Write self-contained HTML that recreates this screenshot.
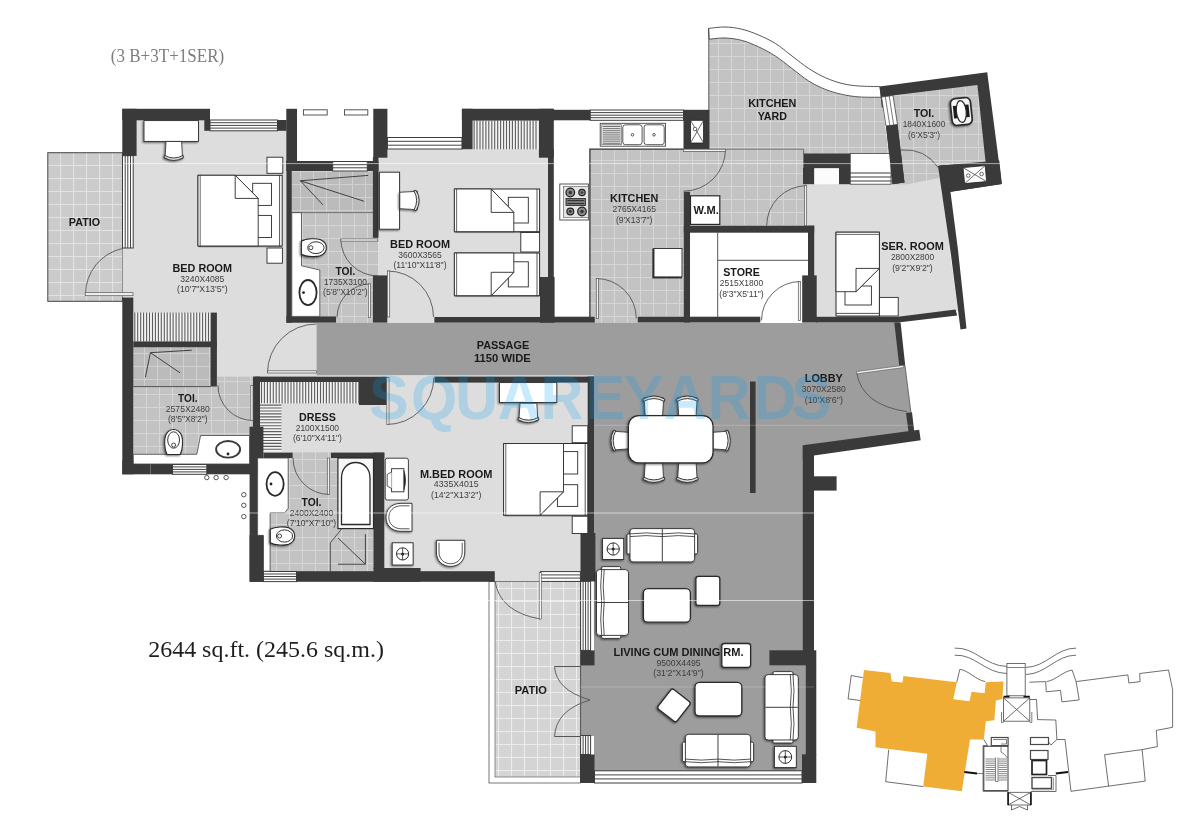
<!DOCTYPE html>
<html lang="en"><head><meta charset="utf-8"><title>Floor plan 3B+3T+1SER - 2644 sq.ft.</title>
<style>
html,body{margin:0;padding:0;background:#fff;}
body{width:1200px;height:837px;overflow:hidden;}
svg{display:block;}
</style></head><body>
<svg width="1200" height="837" viewBox="0 0 1200 837">
<defs>
<pattern id="tile" width="13" height="13" patternUnits="userSpaceOnUse" x="3" y="4">
<rect width="13" height="13" fill="#c3c3c3"/><path d="M0 0.5H13M0.5 0V13" stroke="#d6d6d6" stroke-width="1" fill="none"/>
</pattern>
<pattern id="tiled" width="13" height="13" patternUnits="userSpaceOnUse" x="1" y="2">
<rect width="13" height="13" fill="#bbbbbb"/><path d="M0 0.5H13M0.5 0V13" stroke="#d0d0d0" stroke-width="1" fill="none"/>
</pattern>
<pattern id="ptile" width="13" height="13" patternUnits="userSpaceOnUse" x="8" y="9">
<rect width="13" height="13" fill="#cbcbcb"/><path d="M0 0.5H13M0.5 0V13" stroke="#e2e2e2" stroke-width="1.2" fill="none"/>
</pattern>
<pattern id="ptile2" width="13" height="13" patternUnits="userSpaceOnUse" x="4" y="3">
<rect width="13" height="13" fill="#d4d4d4"/><path d="M0 0.5H13M0.5 0V13" stroke="#ececec" stroke-width="1.2" fill="none"/>
</pattern>
<filter id="sh" x="-20%" y="-20%" width="150%" height="150%">
<feGaussianBlur in="SourceAlpha" stdDeviation="1.1"/><feOffset dx="-1.1" dy="1.3" result="o"/>
<feComponentTransfer><feFuncA type="linear" slope="0.55"/></feComponentTransfer>
<feMerge><feMergeNode/><feMergeNode in="SourceGraphic"/></feMerge>
</filter>
</defs>
<rect width="1200" height="837" fill="#ffffff"/>

<g id="floors">
<rect x="47.8" y="152.7" width="74.7" height="148.6" fill="url(#ptile)" stroke="#444" stroke-width="1"/>
<rect x="133" y="120" width="153.5" height="193" fill="#dddddd"/>
<rect x="216" y="313" width="100.5" height="63.8" fill="#dddddd"/>
<rect x="122.5" y="247.5" width="11.5" height="50.1" fill="#dddddd"/>
<rect x="133" y="347" width="78" height="40" fill="url(#tiled)"/>
<rect x="133" y="386.6" width="121" height="77.4" fill="url(#tile)"/>
<rect x="216.9" y="376.5" width="37.1" height="11.5" fill="url(#tile)"/>
<rect x="291.8" y="171" width="81.2" height="41.6" fill="url(#tiled)"/>
<rect x="291.8" y="212.6" width="86.7" height="104.4" fill="url(#tile)"/>
<rect x="335.8" y="316" width="37.4" height="7" fill="url(#tile)"/>
<rect x="378.5" y="149" width="170" height="168.5" fill="#dddddd"/>
<rect x="387" y="317" width="48" height="6" fill="#dddddd"/>
<rect x="553.8" y="120" width="130.2" height="197" fill="#ffffff"/>
<rect x="589.9" y="149.2" width="94.6" height="167.8" fill="url(#tile)"/>
<rect x="684" y="149.2" width="123" height="76.8" fill="url(#tile)"/>
<rect x="594.5" y="316" width="43.5" height="7" fill="url(#tile)"/>
<path d="M589.9 317V149.2H683.5" fill="none" stroke="#333" stroke-width="1.3" />
<path d="M709.2 39.2C711.8 39 719.6 37.8 725 38C730.4 38.2 736.2 38.9 741.8 40.4C747.4 41.9 752.9 44.2 758.5 46.8C764.1 49.4 769.7 52.4 775.3 56C780.9 59.6 786.4 64.3 792 68.5C797.6 72.7 803.1 77.5 808.7 81C814.3 84.5 819.8 87.2 825.4 89.4C831 91.6 836.5 93.2 842.1 94.4C847.7 95.7 852.4 96.4 858.9 96.9C865.4 97.4 877.6 97.2 881.4 97.3L893 184L803.4 184L803.4 149.2L708.8 149.2Z" fill="url(#tile)" stroke="none" stroke-width="1" />
<path d="M708.4 28.4C711.2 28.2 719.4 26.9 725 27C730.6 27.1 736.2 27.9 741.8 29.2C747.4 30.5 752.9 32.6 758.5 35C764.1 37.4 769.7 39.9 775.3 43.4C780.9 46.9 786.4 51.8 792 56C797.6 60.2 803.1 64.9 808.7 68.5C814.3 72.1 819.8 75.2 825.4 77.7C831 80.2 836.5 82.1 842.1 83.5C847.7 84.9 852.6 85.5 858.9 86C865.2 86.5 876.3 86.5 879.8 86.6L881.4 97.3C877.6 97.2 865.4 97.4 858.9 96.9C852.4 96.4 847.7 95.7 842.1 94.4C836.5 93.2 831 91.6 825.4 89.4C819.8 87.2 814.3 84.5 808.7 81C803.1 77.5 797.6 72.7 792 68.5C786.4 64.3 780.9 59.6 775.3 56C769.7 52.4 764.1 49.4 758.5 46.8C752.9 44.2 747.4 41.9 741.8 40.4C736.2 38.9 730.4 38.2 725 38C719.6 37.8 711.8 39 709.2 39.2Z" fill="#ffffff" stroke="#444" stroke-width="0.9" />
<line x1="708.8" y1="28.4" x2="708.8" y2="149.2" stroke="#444" stroke-width="0.9" />
<path d="M709 149.2H803.6V154" fill="none" stroke="#555" stroke-width="0.8" />
<polygon points="807,184.2 905,183.6 942,176.5 951,260 958,311 898,318 814,318 814,230 807,226" fill="#dddddd"/>
<polygon points="890,94.5 978.5,84.5 986.5,163 940,167 942,177.5 906,184.5 893,184.5" fill="url(#tile)"/>
<rect x="690" y="232" width="118.5" height="85" fill="#ffffff"/>
<rect x="760" y="316" width="43" height="7" fill="#ffffff"/>
<polygon points="316.5,323 897,323 905,365.5 911,413 912,431.5 808,446 808,771 594,771 594,375.5 316.5,375.5" fill="#9d9d9d"/>
<rect x="260" y="381" width="127" height="72" fill="#dddddd"/>
<rect x="384" y="381" width="204" height="191" fill="#dddddd"/>
<rect x="386.8" y="375.5" width="47.7" height="7.5" fill="#dddddd"/>
<rect x="494.8" y="570" width="46.2" height="11.6" fill="#dddddd"/>
<rect x="580.4" y="665" width="14.6" height="71" fill="#9d9d9d"/>
<rect x="257.6" y="458" width="116.4" height="114" fill="url(#tile)"/>
<rect x="292.5" y="452.4" width="38.7" height="6.1" fill="url(#tile)"/>
<rect x="489" y="581.4" width="91.5" height="201.6" fill="#ffffff" stroke="#555" stroke-width="0.8"/>
<rect x="495" y="581.4" width="85.5" height="195.6" fill="url(#ptile2)" stroke="#666" stroke-width="0.7"/>
</g>
<g id="windows">
<rect x="210" y="120" width="67.5" height="10.8" fill="#ffffff" stroke="#3c3c3c" stroke-width="1"/>
<line x1="210" y1="122.7" x2="277.5" y2="122.7" stroke="#444" stroke-width="1" />
<line x1="210" y1="125.4" x2="277.5" y2="125.4" stroke="#444" stroke-width="1" />
<line x1="210" y1="128.1" x2="277.5" y2="128.1" stroke="#444" stroke-width="1" />
<rect x="122.5" y="155.7" width="10.7" height="92.3" fill="#ffffff" stroke="#3c3c3c" stroke-width="1"/>
<line x1="125.2" y1="155.7" x2="125.2" y2="248" stroke="#444" stroke-width="1" />
<line x1="127.8" y1="155.7" x2="127.8" y2="248" stroke="#444" stroke-width="1" />
<line x1="130.5" y1="155.7" x2="130.5" y2="248" stroke="#444" stroke-width="1" />
<rect x="332.7" y="161.5" width="34.6" height="9.5" fill="#ffffff" stroke="#3c3c3c" stroke-width="1"/>
<line x1="332.7" y1="164.7" x2="367.3" y2="164.7" stroke="#444" stroke-width="1" />
<line x1="332.7" y1="167.8" x2="367.3" y2="167.8" stroke="#444" stroke-width="1" />
<rect x="387.4" y="137.5" width="74.6" height="11.5" fill="#ffffff" stroke="#3c3c3c" stroke-width="1"/>
<line x1="387.4" y1="141.3" x2="462" y2="141.3" stroke="#444" stroke-width="1" />
<line x1="387.4" y1="145.2" x2="462" y2="145.2" stroke="#444" stroke-width="1" />
<rect x="590.2" y="110" width="93.3" height="10.3" fill="#ffffff" stroke="#3c3c3c" stroke-width="1"/>
<line x1="590.2" y1="112.6" x2="683.5" y2="112.6" stroke="#444" stroke-width="1" />
<line x1="590.2" y1="115.2" x2="683.5" y2="115.2" stroke="#444" stroke-width="1" />
<line x1="590.2" y1="117.7" x2="683.5" y2="117.7" stroke="#444" stroke-width="1" />
<rect x="172.5" y="464.5" width="34.3" height="9.8" fill="#ffffff" stroke="#3c3c3c" stroke-width="1"/>
<line x1="172.5" y1="466.9" x2="206.8" y2="466.9" stroke="#444" stroke-width="1" />
<line x1="172.5" y1="469.4" x2="206.8" y2="469.4" stroke="#444" stroke-width="1" />
<line x1="172.5" y1="471.9" x2="206.8" y2="471.9" stroke="#444" stroke-width="1" />
<rect x="263.4" y="571.5" width="33.1" height="10.1" fill="#ffffff" stroke="#3c3c3c" stroke-width="1"/>
<line x1="263.4" y1="574" x2="296.5" y2="574" stroke="#444" stroke-width="1" />
<line x1="263.4" y1="576.5" x2="296.5" y2="576.5" stroke="#444" stroke-width="1" />
<line x1="263.4" y1="579.1" x2="296.5" y2="579.1" stroke="#444" stroke-width="1" />
<rect x="580.6" y="581.4" width="10" height="69" fill="#ffffff" stroke="#3c3c3c" stroke-width="1"/>
<line x1="583.1" y1="581.4" x2="583.1" y2="650.4" stroke="#444" stroke-width="1" />
<line x1="585.6" y1="581.4" x2="585.6" y2="650.4" stroke="#444" stroke-width="1" />
<line x1="588.1" y1="581.4" x2="588.1" y2="650.4" stroke="#444" stroke-width="1" />
<rect x="580.6" y="735.5" width="10" height="19" fill="#ffffff" stroke="#3c3c3c" stroke-width="1"/>
<line x1="583.1" y1="735.5" x2="583.1" y2="754.5" stroke="#444" stroke-width="1" />
<line x1="585.6" y1="735.5" x2="585.6" y2="754.5" stroke="#444" stroke-width="1" />
<line x1="588.1" y1="735.5" x2="588.1" y2="754.5" stroke="#444" stroke-width="1" />
<rect x="594.5" y="770.8" width="207.5" height="12.2" fill="#ffffff" stroke="#3c3c3c" stroke-width="1"/>
<line x1="594.5" y1="774.9" x2="802" y2="774.9" stroke="#444" stroke-width="1" />
<line x1="594.5" y1="778.9" x2="802" y2="778.9" stroke="#444" stroke-width="1" />
<rect x="540.5" y="571.6" width="39.9" height="9.8" fill="#ffffff" stroke="#3c3c3c" stroke-width="1"/>
<line x1="540.5" y1="574.9" x2="580.4" y2="574.9" stroke="#444" stroke-width="1" />
<line x1="540.5" y1="578.1" x2="580.4" y2="578.1" stroke="#444" stroke-width="1" />
<rect x="303.4" y="109.8" width="23.8" height="5.2" fill="#fff" stroke="#444" stroke-width="0.9"/>
<rect x="344.5" y="109.8" width="23.3" height="5.2" fill="#fff" stroke="#444" stroke-width="0.9"/>
<rect x="133.3" y="312.6" width="77.3" height="29" fill="#f4f4f4"/>
<path d="M134.8 312.6V341.6M137.7 312.6V341.6M140.7 312.6V341.6M143.6 312.6V341.6M146.6 312.6V341.6M149.5 312.6V341.6M152.5 312.6V341.6M155.4 312.6V341.6M158.4 312.6V341.6M161.3 312.6V341.6M164.3 312.6V341.6M167.2 312.6V341.6M170.2 312.6V341.6M173.1 312.6V341.6M176.1 312.6V341.6M179 312.6V341.6M182 312.6V341.6M184.9 312.6V341.6M187.9 312.6V341.6M190.8 312.6V341.6M193.8 312.6V341.6M196.7 312.6V341.6M199.7 312.6V341.6M202.6 312.6V341.6M205.6 312.6V341.6M208.5 312.6V341.6" fill="none" stroke="#5c5c5c" stroke-width="1.1" />
<rect x="472.6" y="120.6" width="66.3" height="28.6" fill="#f4f4f4"/>
<path d="M474.1 120.6V149.2M477 120.6V149.2M480 120.6V149.2M482.9 120.6V149.2M485.9 120.6V149.2M488.8 120.6V149.2M491.8 120.6V149.2M494.7 120.6V149.2M497.7 120.6V149.2M500.6 120.6V149.2M503.6 120.6V149.2M506.5 120.6V149.2M509.5 120.6V149.2M512.4 120.6V149.2M515.4 120.6V149.2M518.3 120.6V149.2M521.3 120.6V149.2M524.2 120.6V149.2M527.2 120.6V149.2M530.1 120.6V149.2M533.1 120.6V149.2M536 120.6V149.2" fill="none" stroke="#5c5c5c" stroke-width="1.1" />
<rect x="260" y="382" width="99" height="21.6" fill="#f4f4f4"/>
<path d="M261.5 382V403.6M264.4 382V403.6M267.4 382V403.6M270.3 382V403.6M273.3 382V403.6M276.2 382V403.6M279.2 382V403.6M282.1 382V403.6M285.1 382V403.6M288 382V403.6M291 382V403.6M293.9 382V403.6M296.9 382V403.6M299.8 382V403.6M302.8 382V403.6M305.7 382V403.6M308.7 382V403.6M311.6 382V403.6M314.6 382V403.6M317.5 382V403.6M320.5 382V403.6M323.4 382V403.6M326.4 382V403.6M329.3 382V403.6M332.3 382V403.6M335.2 382V403.6M338.2 382V403.6M341.1 382V403.6M344.1 382V403.6M347 382V403.6M350 382V403.6M352.9 382V403.6M355.9 382V403.6M358.8 382V403.6" fill="none" stroke="#5c5c5c" stroke-width="1.1" />
<rect x="260" y="403.6" width="21.5" height="47.9" fill="#f4f4f4"/>
<path d="M260 405.1H281.5M260 408H281.5M260 411H281.5M260 413.9H281.5M260 416.9H281.5M260 419.8H281.5M260 422.8H281.5M260 425.7H281.5M260 428.7H281.5M260 431.6H281.5M260 434.6H281.5M260 437.5H281.5M260 440.5H281.5M260 443.4H281.5M260 446.4H281.5M260 449.3H281.5" fill="none" stroke="#5c5c5c" stroke-width="1.1" />
</g>
<g id="walls" fill="#3a3a3a">
<rect x="122.3" y="108.8" width="87.7" height="11.5" fill="#3a3a3a"/>
<rect x="204.3" y="120" width="5.7" height="10.8" fill="#3a3a3a"/>
<rect x="122.3" y="108.8" width="14.3" height="47.1" fill="#3a3a3a"/>
<rect x="277.5" y="120" width="9" height="10.8" fill="#3a3a3a"/>
<rect x="286.3" y="108.8" width="10.7" height="56.2" fill="#3a3a3a"/>
<rect x="286.4" y="161" width="5.4" height="161.7" fill="#3a3a3a"/>
<rect x="286.3" y="161" width="46.4" height="10" fill="#3a3a3a"/>
<rect x="367.3" y="161" width="11.2" height="10" fill="#3a3a3a"/>
<rect x="373.3" y="108.8" width="14.1" height="48.9" fill="#3a3a3a"/>
<rect x="372.9" y="157" width="5.6" height="80.8" fill="#3a3a3a"/>
<rect x="372.9" y="275.4" width="14.4" height="47.3" fill="#3a3a3a"/>
<rect x="286.4" y="316.4" width="49.6" height="6.3" fill="#3a3a3a"/>
<rect x="122.3" y="297.5" width="11" height="176.8" fill="#3a3a3a"/>
<rect x="133.3" y="341.4" width="83.6" height="5.8" fill="#3a3a3a"/>
<rect x="210.6" y="312.6" width="6.3" height="74" fill="#3a3a3a"/>
<rect x="122.3" y="460.5" width="28.1" height="13.8" fill="#3a3a3a"/>
<rect x="150.4" y="464" width="22.1" height="10.3" fill="#3a3a3a"/>
<rect x="206.8" y="464" width="43.2" height="10.3" fill="#3a3a3a"/>
<rect x="249.5" y="426.7" width="13.9" height="47.6" fill="#3a3a3a"/>
<rect x="249.6" y="474" width="8" height="62" fill="#3a3a3a"/>
<rect x="249.6" y="535.4" width="13.8" height="46.4" fill="#3a3a3a"/>
<rect x="253" y="376.6" width="7" height="51.4" fill="#3a3a3a"/>
<rect x="254.6" y="376.6" width="104.4" height="5.4" fill="#3a3a3a"/>
<rect x="359" y="376.6" width="27.8" height="28.4" fill="#3a3a3a"/>
<rect x="434.5" y="376.5" width="159.5" height="6.1" fill="#3a3a3a"/>
<rect x="587.7" y="376.5" width="6.3" height="157.5" fill="#3a3a3a"/>
<rect x="580.5" y="533" width="14.9" height="48.4" fill="#3a3a3a"/>
<rect x="296.5" y="571.2" width="198.3" height="10.6" fill="#3a3a3a"/>
<rect x="373.5" y="568" width="47.1" height="13.8" fill="#3a3a3a"/>
<rect x="373.5" y="452.6" width="10.8" height="116.4" fill="#3a3a3a"/>
<rect x="331" y="452.6" width="53.3" height="5.4" fill="#3a3a3a"/>
<rect x="263.4" y="452.6" width="29.3" height="5.4" fill="#3a3a3a"/>
<rect x="461.9" y="108.8" width="91.9" height="11.8" fill="#3a3a3a"/>
<rect x="461.9" y="108.8" width="10.7" height="40.4" fill="#3a3a3a"/>
<rect x="538.9" y="108.8" width="14.9" height="48.9" fill="#3a3a3a"/>
<rect x="548" y="149" width="5.8" height="129" fill="#3a3a3a"/>
<rect x="540" y="277" width="14.6" height="45.7" fill="#3a3a3a"/>
<rect x="434.4" y="317" width="106.6" height="5.7" fill="#3a3a3a"/>
<rect x="553" y="109.8" width="37.2" height="10.5" fill="#3a3a3a"/>
<rect x="683.5" y="109.8" width="25.8" height="39.4" fill="#3a3a3a"/>
<rect x="540" y="316.7" width="54.8" height="6" fill="#3a3a3a"/>
<rect x="637.8" y="316.7" width="122.5" height="5.9" fill="#3a3a3a"/>
<rect x="683.8" y="191.8" width="6.2" height="130.7" fill="#3a3a3a"/>
<rect x="683.8" y="225.7" width="130.4" height="7" fill="#3a3a3a"/>
<rect x="808" y="225.7" width="6.2" height="50.3" fill="#3a3a3a"/>
<rect x="802.2" y="275.4" width="14.5" height="47.2" fill="#3a3a3a"/>
<rect x="816" y="316.8" width="82.5" height="5.8" fill="#3a3a3a"/>
<rect x="803.4" y="153.5" width="46.9" height="14.8" fill="#3a3a3a"/>
<rect x="803" y="168" width="11.3" height="16.2" fill="#3a3a3a"/>
<rect x="839" y="168" width="11.3" height="16.2" fill="#3a3a3a"/>
<rect x="802.8" y="446" width="11.2" height="205" fill="#3a3a3a"/>
<rect x="814" y="476.3" width="22.6" height="14.3" fill="#3a3a3a"/>
<rect x="769.4" y="650.3" width="46.9" height="15" fill="#3a3a3a"/>
<rect x="805.8" y="665" width="10.5" height="90" fill="#3a3a3a"/>
<rect x="802" y="754.3" width="14.3" height="28.7" fill="#3a3a3a"/>
<rect x="580.4" y="650.4" width="14.1" height="15" fill="#3a3a3a"/>
<rect x="580" y="754.5" width="14.5" height="28.5" fill="#3a3a3a"/>
<rect x="750" y="381.5" width="5.6" height="111.5" fill="#3a3a3a"/>
<polygon points="898,316.8 955.5,309.6 957.2,315.4 898,322.6" fill="#3a3a3a"/>
<polygon points="938,166 947,165 958,250 966.5,328.5 960.5,329.5 951,255" fill="#3a3a3a"/>
<polygon points="879.7,86.6 987.2,72.2 1001.8,184 942.6,193 938.9,165.7 985.6,162.2 977.4,85.1 892.5,95.6 894,106 881.8,107.5" fill="#3a3a3a"/>
<polygon points="938.9,165.7 999.3,160.5 1001.8,184 942.6,193" fill="#3a3a3a"/>
<polygon points="886,126 897.5,124.5 904.5,182.5 892.5,184.2" fill="#3a3a3a"/>
<polygon points="894.3,322.6 900.6,322.6 905.2,365.5 899.3,366.3" fill="#3a3a3a"/>
<polygon points="906,413 912,412.2 914.2,431 908.6,432" fill="#3a3a3a"/>
<polygon points="802.8,445.2 919.2,429.8 920.7,440.3 814,455.6 814,460 802.8,460" fill="#3a3a3a"/>
</g>
<rect x="690.5" y="120.3" width="13.1" height="22.7" fill="#ffffff" stroke="#222" stroke-width="0.8"/>
<path d="M690.5 120.3L703.6 143M703.6 120.3L690.5 143" fill="none" stroke="#444" stroke-width="0.8" />
<circle cx="695" cy="129" r="1.8" fill="#fff" stroke="#444" stroke-width="0.8"/>
<polygon points="963,167.6 985.2,165.6 986.6,181.6 964.6,183.6" fill="#ffffff" stroke="#222" stroke-width="0.8"/>
<path d="M963 167.6L986.6 181.6M985.2 165.6L964.6 183.6" fill="none" stroke="#444" stroke-width="0.8" />
<circle cx="968.3" cy="175.6" r="1.8" fill="#fff" stroke="#444" stroke-width="0.8"/><circle cx="981.6" cy="174" r="1.8" fill="#fff" stroke="#444" stroke-width="0.8"/>
<polygon points="881.5,97 893,95.5 897.5,124.5 886,126" fill="#ffffff" stroke="#444" stroke-width="0.8"/>
<path d="M885.3 96.5L889.8 125.5M889.2 96L893.7 125" fill="none" stroke="#555" stroke-width="0.8" />
<rect x="850.3" y="153.5" width="40.7" height="30.7" fill="#ffffff" stroke="#444" stroke-width="0.8"/>
<path d="M850.3 173H890.5M850.3 177H891M850.3 181H891.5" fill="none" stroke="#3a3a3a" stroke-width="1" />
<rect x="814.3" y="168.3" width="24.7" height="15.9" fill="#fbfbfb"/>
<polygon points="884,126 893,184.2 850,184.2 850,153.5 887,153.5" fill="none"/>
<polygon points="886,126 897.5,124.5 904.5,182.5 892.5,184.2" fill="#3a3a3a"/>
<g id="doors">
<path d="M122.8 248.4A47 47 0 0 0 85.5 294.4" fill="none" stroke="#555" stroke-width="0.9" />
<rect x="85.2" y="292.7" width="47.8" height="3" fill="#f2f2f2" stroke="#555" stroke-width="0.7"/>
<path d="M316.5 324A49 49 0 0 0 267.5 373" fill="none" stroke="#555" stroke-width="0.9" />
<rect x="267.5" y="370.8" width="49" height="2.2" fill="#f2f2f2" stroke="#555" stroke-width="0.7"/>
<path d="M253 420.5A35 35 0 0 1 218 385.5" fill="none" stroke="#555" stroke-width="0.9" />
<rect x="250.8" y="385.5" width="2.2" height="35" fill="#f2f2f2" stroke="#555" stroke-width="0.7"/>
<path d="M377.8 275.9A37 37 0 0 1 340.8 238.9" fill="none" stroke="#555" stroke-width="0.9" />
<rect x="340.8" y="238.9" width="37" height="2.2" fill="#f2f2f2" stroke="#555" stroke-width="0.7"/>
<path d="M370.5 283.9A33.5 33.5 0 0 0 337 317.4" fill="none" stroke="#555" stroke-width="0.9" />
<rect x="368.3" y="283.9" width="2.2" height="33.5" fill="#f2f2f2" stroke="#555" stroke-width="0.7"/>
<path d="M387.5 271A46 46 0 0 1 433.5 317" fill="none" stroke="#555" stroke-width="0.9" />
<rect x="387.5" y="271" width="2.2" height="46" fill="#f2f2f2" stroke="#555" stroke-width="0.7"/>
<path d="M386.8 424.5A47 47 0 0 0 433.8 377.5" fill="none" stroke="#555" stroke-width="0.9" />
<rect x="386.8" y="377.5" width="2.2" height="47" fill="#f2f2f2" stroke="#555" stroke-width="0.7"/>
<path d="M329.5 494.5A36.5 36.5 0 0 1 293 458" fill="none" stroke="#555" stroke-width="0.9" />
<rect x="327.3" y="458" width="2.2" height="36.5" fill="#f2f2f2" stroke="#555" stroke-width="0.7"/>
<path d="M596.3 278.5A40 40 0 0 1 636.3 318.5" fill="none" stroke="#555" stroke-width="0.9" />
<rect x="596.3" y="278.5" width="2.2" height="40" fill="#f2f2f2" stroke="#555" stroke-width="0.7"/>
<path d="M683.5 191.2A42 42 0 0 0 725.5 149.2" fill="none" stroke="#555" stroke-width="0.9" />
<rect x="683.5" y="149.2" width="42" height="2.2" fill="#f2f2f2" stroke="#555" stroke-width="0.7"/>
<path d="M806.7 185.7A40 40 0 0 0 766.7 225.7" fill="none" stroke="#555" stroke-width="0.9" />
<rect x="804.5" y="185.7" width="2.2" height="40" fill="#f2f2f2" stroke="#555" stroke-width="0.7"/>
<path d="M800.5 320.5L800.5 281.5A39 39 0 0 0 761.5 320.5Z" fill="#fff" stroke="none" stroke-width="1" />
<path d="M800.5 281.5A39 39 0 0 0 761.5 320.5" fill="none" stroke="#555" stroke-width="0.9" />
<rect x="798.3" y="281.5" width="2.2" height="39" fill="#f2f2f2" stroke="#555" stroke-width="0.7"/>
<path d="M901 150Q925 148 938.5 168" fill="none" stroke="#555" stroke-width="0.9" />
<path d="M856.7 372.7Q862 405 906.9 411.6" fill="none" stroke="#555" stroke-width="0.9" />
<polygon points="856.5,371.6 903.5,365.3 903.8,367.5 856.8,373.8" fill="#f2f2f2" stroke="#555" stroke-width="0.6"/>
<line x1="905" y1="365.7" x2="911" y2="412.9" stroke="#555" stroke-width="0.8" />
<path d="M495 581.4Q500 612 540.3 619" fill="none" stroke="#555" stroke-width="0.9" />
<rect x="539.2" y="572.6" width="2.2" height="46.4" fill="#f2f2f2" stroke="#555" stroke-width="0.6"/>
<path d="M554.5 666.5Q556 690 590 700Q556 710 554.5 736.5" fill="none" stroke="#555" stroke-width="0.9" />
<path d="M554.5 666.5H581M554.5 736.5H581" fill="none" stroke="#555" stroke-width="1.2" />
<line x1="580.6" y1="665.4" x2="580.6" y2="736" stroke="#555" stroke-width="0.9" />
</g>
<g id="fixtures">
<polygon points="200.6,435.5 249.5,435.5 249.5,464 133.3,464 133.3,454.3 196.8,454.3" fill="#fff" stroke="#444" stroke-width="0.8"/>
<ellipse cx="228.1" cy="449.3" rx="12" ry="8.3" fill="#fff" stroke="#3a3a3a" stroke-width="1.9"/><circle cx="228" cy="454" r="1.4" fill="#222"/>
<g filter="url(#sh)"><g transform="translate(173.6,442) rotate(-90)">
<path d="M-12.5 -6.5C-7.5 -9.4 2.5 -9.4 6.2 -8.1C10.5 -6.3 12.5 -3.2 12.5 0C12.5 3.2 10.5 6.3 6.2 8.1C2.5 9.4 -7.5 9.4 -12.5 6.5Z" fill="#fff" stroke="#2a2a2a" stroke-width="1.1" />
<ellipse cx="2" cy="0" rx="8.2" ry="5.9" fill="#fff" stroke="#333" stroke-width="1"/>
<circle cx="-3" cy="0" r="2" fill="#fff" stroke="#333" stroke-width="0.9"/>
</g></g>
<path d="M150.4 352.7L191.8 350.2M150.4 352.7L180 372.8M150.4 352.7L145.4 377.3" fill="none" stroke="#333" stroke-width="0.9" />
<line x1="133.3" y1="386.6" x2="211" y2="386.6" stroke="#444" stroke-width="0.9" />
<polygon points="291.8,212.6 301.5,212.6 301.5,265.8 319.8,270 319.8,316.4 291.8,316.4" fill="#fff" stroke="#444" stroke-width="0.8"/>
<line x1="291.8" y1="212.6" x2="373" y2="212.6" stroke="#555" stroke-width="0.8" />
<ellipse cx="308" cy="292.6" rx="8.6" ry="12.6" fill="#fff" stroke="#2a2a2a" stroke-width="1.8"/><circle cx="303.5" cy="292.6" r="1.4" fill="#222"/>
<g filter="url(#sh)"><g transform="translate(313.9,247.7) rotate(0)">
<path d="M-12.5 -6.5C-7.5 -9.4 2.5 -9.4 6.2 -8.1C10.5 -6.3 12.5 -3.2 12.5 0C12.5 3.2 10.5 6.3 6.2 8.1C2.5 9.4 -7.5 9.4 -12.5 6.5Z" fill="#fff" stroke="#2a2a2a" stroke-width="1.1" />
<ellipse cx="2" cy="0" rx="8.2" ry="5.9" fill="#fff" stroke="#333" stroke-width="1"/>
<circle cx="-3" cy="0" r="2" fill="#fff" stroke="#333" stroke-width="0.9"/>
</g></g>
<path d="M300.4 180.8L368.2 175.4M300.4 180.8L363.9 201.2M300.4 180.8L323 204.9" fill="none" stroke="#333" stroke-width="0.9" />
<polygon points="257.6,458 288.2,458 288.2,508.3 284.7,512.8 270.1,512.8 270.1,571.2 263.4,571.2 263.4,535.4 257.6,535.4" fill="#fff" stroke="#444" stroke-width="0.8"/>
<rect x="249.6" y="535.4" width="13.8" height="46.4" fill="#3a3a3a"/>
<ellipse cx="275.1" cy="484" rx="8.6" ry="11.8" fill="#fff" stroke="#2a2a2a" stroke-width="1.8"/><circle cx="271" cy="484" r="1.4" fill="#222"/>
<g filter="url(#sh)"><g transform="translate(282.5,536) rotate(0)">
<path d="M-12.2 -6.7C-7.3 -9.6 2.5 -9.6 6.1 -8.3C10.3 -6.5 12.2 -3.3 12.2 0C12.2 3.3 10.3 6.5 6.1 8.3C2.5 9.6 -7.3 9.6 -12.2 6.7Z" fill="#fff" stroke="#2a2a2a" stroke-width="1.1" />
<ellipse cx="2" cy="0" rx="8.1" ry="6.1" fill="#fff" stroke="#333" stroke-width="1"/>
<circle cx="-2.9" cy="0" r="2" fill="#fff" stroke="#333" stroke-width="0.9"/>
</g></g>
<rect x="337.9" y="458" width="35.6" height="70.6" fill="#f6f6f6" stroke="#2a2a2a" stroke-width="1.2"/>
<path d="M341.5 524.5V478C341.5 468 348 462.5 355.7 462.5C363.5 462.5 370 468 370 478V524.5Z" fill="#fff" stroke="#2a2a2a" stroke-width="1.3" />
<path d="M330.3 571.2V542.9L341.6 529" fill="none" stroke="#444" stroke-width="0.9" />
<path d="M337.9 537.9L365.4 564.2M365.4 534.1V564.2M337.9 564.2H365.4" fill="none" stroke="#333" stroke-width="0.9" />
<circle cx="206.8" cy="477.6" r="2.2" fill="#fff" stroke="#444" stroke-width="0.9"/>
<circle cx="216.1" cy="477.6" r="2.2" fill="#fff" stroke="#444" stroke-width="0.9"/>
<circle cx="226.1" cy="477.6" r="2.2" fill="#fff" stroke="#444" stroke-width="0.9"/>
<circle cx="243.8" cy="494.7" r="2.2" fill="#fff" stroke="#444" stroke-width="0.9"/>
<circle cx="243.8" cy="505.3" r="2.2" fill="#fff" stroke="#444" stroke-width="0.9"/>
<circle cx="243.8" cy="516.6" r="2.2" fill="#fff" stroke="#444" stroke-width="0.9"/>
<g filter="url(#sh)"><g transform="rotate(-6 961.3 111.5)"><rect x="951.2" y="98" width="20.2" height="27" rx="5" fill="#f4f4f4" stroke="#2a2a2a" stroke-width="1.7"/><rect x="953.4" y="105.2" width="4" height="12.6" fill="#1c1c1c"/><rect x="965.2" y="105.2" width="4" height="12.6" fill="#1c1c1c"/><ellipse cx="961.3" cy="111.5" rx="4.9" ry="11" fill="#fff" stroke="#2a2a2a" stroke-width="1.2"/></g></g>
<rect x="600.2" y="123.3" width="65.2" height="22.9" fill="#fff" stroke="#444" stroke-width="0.9"/>
<rect x="601.8" y="124.8" width="19.7" height="19.9" fill="#e8e8e8" stroke="#555" stroke-width="0.6"/>
<path d="M603 126.5H620.5M603 128.6H620.5M603 130.7H620.5M603 132.8H620.5M603 134.9H620.5M603 137H620.5M603 139.1H620.5M603 141.2H620.5M603 143.3H620.5" fill="none" stroke="#555" stroke-width="0.8" />
<rect x="622.8" y="124.8" width="19.3" height="19.9" rx="2.5" ry="2.5" fill="#fff" stroke="#444" stroke-width="0.9" />
<rect x="644.1" y="124.8" width="20.1" height="19.9" rx="2.5" ry="2.5" fill="#fff" stroke="#444" stroke-width="0.9" />
<circle cx="632.5" cy="134.8" r="1.3" fill="#fff" stroke="#333" stroke-width="0.8"/><circle cx="654" cy="134.8" r="1.3" fill="#fff" stroke="#333" stroke-width="0.8"/>
<rect x="559.8" y="184" width="28.6" height="36" fill="#fff" stroke="#444" stroke-width="0.9"/>
<rect x="563.5" y="186.5" width="24.9" height="31" fill="#e4e4e4" stroke="#555" stroke-width="0.6"/>
<circle cx="570.3" cy="192.5" r="4.3" fill="#8a8a8a" stroke="#222" stroke-width="1.2"/><circle cx="570.3" cy="192.5" r="1.7" fill="#333"/>
<circle cx="582" cy="192.5" r="3.2" fill="#8a8a8a" stroke="#222" stroke-width="1.2"/><circle cx="582" cy="192.5" r="1.3" fill="#333"/>
<circle cx="570.3" cy="211.5" r="3.4" fill="#8a8a8a" stroke="#222" stroke-width="1.2"/><circle cx="570.3" cy="211.5" r="1.4" fill="#333"/>
<circle cx="582" cy="211.5" r="4.3" fill="#8a8a8a" stroke="#222" stroke-width="1.2"/><circle cx="582" cy="211.5" r="1.7" fill="#333"/>
<rect x="566" y="198.5" width="19.5" height="7" fill="#777" stroke="#222" stroke-width="0.8"/>
<path d="M567.5 200.5H584M567.5 203.5H584" fill="none" stroke="#222" stroke-width="0.8" />
<rect x="690.5" y="195.8" width="29.3" height="28.6" fill="#fff" stroke="#2a2a2a" stroke-width="1.2"/>
<rect x="652.3" y="248.5" width="29.7" height="30" fill="#333"/>
<rect x="654" y="248.5" width="28" height="28.4" fill="#fff" stroke="#2a2a2a" stroke-width="0.9"/>
<path d="M717.7 232.7V317M717.7 260.3H808" fill="none" stroke="#444" stroke-width="0.9" />
</g>
<g id="furniture">
<g filter="url(#sh)">
<rect x="144" y="120.6" width="54.5" height="20.8" fill="#fff" stroke="#2a2a2a" stroke-width="0.9"/>
</g>
<g filter="url(#sh)"><g transform="translate(173.8,151.5) rotate(180)">
<path d="M-8.8 -7.2L8.8 -7.2L7.8 10L-7.8 10Z" fill="#fff" stroke="#2a2a2a" stroke-width="0.8" />
<path d="M-9.8 -6Q0 -12 9.8 -6L9.3 -3.8Q0 -9.2 -9.3 -3.8Z" fill="#dcdcdc" stroke="#2a2a2a" stroke-width="0.9" />
</g></g>
<rect x="267" y="157.2" width="15.8" height="16.1" fill="#fff" stroke="#2a2a2a" stroke-width="0.9"/>
<rect x="267" y="248" width="15.4" height="15.2" fill="#fff" stroke="#2a2a2a" stroke-width="0.9"/>
<g>
<rect x="199" y="176.7" width="82.7" height="70.7" fill="#555" opacity="0.5"/>
<rect x="198" y="175.3" width="84.2" height="70.7" fill="#fff" stroke="#2a2a2a" stroke-width="1"/>
<line x1="279.6" y1="175.3" x2="279.6" y2="246" stroke="#2a2a2a" stroke-width="0.8" />
<rect x="252.7" y="183.3" width="18.8" height="22.1" fill="#fff" stroke="#2a2a2a" stroke-width="0.9"/>
<rect x="252.7" y="215.4" width="18.8" height="22.1" fill="#fff" stroke="#2a2a2a" stroke-width="0.9"/>
<polygon points="198,175.3 235.2,175.3 258.2,198.4 258.2,246 198,246" fill="#fff" stroke="#2a2a2a" stroke-width="0.9"/>
<line x1="200.2" y1="175.3" x2="200.2" y2="246" stroke="#2a2a2a" stroke-width="0.7" />
<polygon points="235.2,175.3 235.2,198.4 258.2,198.4" fill="#fff" stroke="#2a2a2a" stroke-width="0.9"/>
</g>
<g filter="url(#sh)">
<rect x="379.4" y="172.2" width="20.2" height="57" fill="#fff" stroke="#2a2a2a" stroke-width="0.9"/>
</g>
<g filter="url(#sh)"><g transform="translate(410,200.5) rotate(90)">
<path d="M-9.2 -7.4L9.2 -7.4L8.2 10.2L-8.2 10.2Z" fill="#fff" stroke="#2a2a2a" stroke-width="0.8" />
<path d="M-10.2 -6.1Q0 -12.3 10.2 -6.1L9.7 -3.9Q0 -9.4 -9.7 -3.9Z" fill="#dcdcdc" stroke="#2a2a2a" stroke-width="0.9" />
</g></g>
<g>
<rect x="455.4" y="190.4" width="83.7" height="42.7" fill="#555" opacity="0.5"/>
<rect x="454.4" y="189" width="85.2" height="42.7" fill="#fff" stroke="#2a2a2a" stroke-width="1"/>
<line x1="537" y1="189" x2="537" y2="231.7" stroke="#2a2a2a" stroke-width="0.8" />
<rect x="508.3" y="197.3" width="20" height="25.7" fill="#fff" stroke="#2a2a2a" stroke-width="0.9"/>
<polygon points="454.4,189 491.2,189 513.8,212.4 513.8,231.7 454.4,231.7" fill="#fff" stroke="#2a2a2a" stroke-width="0.9"/>
<line x1="456.6" y1="189" x2="456.6" y2="231.7" stroke="#2a2a2a" stroke-width="0.7" />
<polygon points="491.2,189 491.2,212.4 513.8,212.4" fill="#fff" stroke="#2a2a2a" stroke-width="0.9"/>
</g>
<rect x="520.8" y="232.5" width="18.8" height="19.5" fill="#fff" stroke="#2a2a2a" stroke-width="0.9"/>
<g>
<rect x="455.4" y="254.4" width="83.7" height="42.7" fill="#555" opacity="0.5"/>
<rect x="454.4" y="253" width="85.2" height="42.7" fill="#fff" stroke="#2a2a2a" stroke-width="1"/>
<line x1="537" y1="253" x2="537" y2="295.7" stroke="#2a2a2a" stroke-width="0.8" />
<rect x="508.3" y="261.8" width="20" height="25.1" fill="#fff" stroke="#2a2a2a" stroke-width="0.9"/>
<polygon points="454.4,253 513.8,253 513.8,272.3 491.2,295.7 454.4,295.7" fill="#fff" stroke="#2a2a2a" stroke-width="0.9"/>
<line x1="456.6" y1="253" x2="456.6" y2="295.7" stroke="#2a2a2a" stroke-width="0.7" />
<polygon points="491.2,295.7 491.2,272.3 513.8,272.3" fill="#fff" stroke="#2a2a2a" stroke-width="0.9"/>
</g>
<g>
<rect x="837" y="233.6" width="41.9" height="83.8" fill="#555" opacity="0.5"/>
<rect x="836" y="232.2" width="43.4" height="83.8" fill="#fff" stroke="#2a2a2a" stroke-width="1"/>
<line x1="836" y1="313.4" x2="879.4" y2="313.4" stroke="#2a2a2a" stroke-width="0.8" />
<rect x="845" y="286" width="26.4" height="19" fill="#fff" stroke="#2a2a2a" stroke-width="0.9"/>
<polygon points="836,232.2 879.4,232.2 879.4,268.4 856,291.7 836,291.7" fill="#fff" stroke="#2a2a2a" stroke-width="0.9"/>
<line x1="836" y1="234.4" x2="879.4" y2="234.4" stroke="#2a2a2a" stroke-width="0.7" />
<polygon points="856,268.4 879.4,268.4 856,291.7" fill="#fff" stroke="#2a2a2a" stroke-width="0.9"/>
</g>
<rect x="879.4" y="297.4" width="18.8" height="18.6" fill="#fff" stroke="#2a2a2a" stroke-width="0.9"/>
<g filter="url(#sh)">
<rect x="499.5" y="382.6" width="57.3" height="19.9" fill="#fff" stroke="#2a2a2a" stroke-width="0.9"/>
</g>
<g filter="url(#sh)"><g transform="translate(528.4,413.5) rotate(180)">
<path d="M-9.5 -7.4L9.5 -7.4L8.4 10.2L-8.4 10.2Z" fill="#fff" stroke="#2a2a2a" stroke-width="0.8" />
<path d="M-10.5 -6.1Q0 -12.3 10.5 -6.1L10 -3.9Q0 -9.4 -10 -3.9Z" fill="#dcdcdc" stroke="#2a2a2a" stroke-width="0.9" />
</g></g>
<rect x="572.2" y="425.8" width="15.6" height="16.9" fill="#fff" stroke="#2a2a2a" stroke-width="0.9"/>
<rect x="572.2" y="516.2" width="15.6" height="17.3" fill="#fff" stroke="#2a2a2a" stroke-width="0.9"/>
<g>
<rect x="504.6" y="444.9" width="82.7" height="71.7" fill="#555" opacity="0.5"/>
<rect x="503.6" y="443.5" width="84.2" height="71.7" fill="#fff" stroke="#2a2a2a" stroke-width="1"/>
<line x1="585.2" y1="443.5" x2="585.2" y2="515.2" stroke="#2a2a2a" stroke-width="0.8" />
<rect x="563.5" y="451.6" width="14.2" height="22.4" fill="#fff" stroke="#2a2a2a" stroke-width="0.9"/>
<rect x="557.4" y="484.7" width="20.3" height="21.7" fill="#fff" stroke="#2a2a2a" stroke-width="0.9"/>
<polygon points="503.6,443.5 563.5,443.5 563.5,491.8 540.1,515.2 503.6,515.2" fill="#fff" stroke="#2a2a2a" stroke-width="0.9"/>
<line x1="505.8" y1="443.5" x2="505.8" y2="515.2" stroke="#2a2a2a" stroke-width="0.7" />
<polygon points="540.1,515.2 540.1,491.8 563.5,491.8" fill="#fff" stroke="#2a2a2a" stroke-width="0.9"/>
</g>
<rect x="385.2" y="458.2" width="23.2" height="41.8" rx="2" ry="2" fill="#fff" stroke="#2a2a2a" stroke-width="0.9" />
<rect x="391.6" y="468.7" width="12.3" height="23.1" fill="#fff" stroke="#2a2a2a" stroke-width="0.9"/>
<path d="M391.6 472L387.2 474.5V486L391.6 488.5" fill="#fff" stroke="#2a2a2a" stroke-width="0.8" />
<path d="M403.9 470.5Q407 480 403.9 490" fill="#222" stroke="#222" stroke-width="0.8" />
<g filter="url(#sh)">
<path d="M412 503.3H401C391 503.3 386 510 386 517.3C386 524.6 391 531.3 401 531.3H412Z" fill="#fff" stroke="#2a2a2a" stroke-width="0.9" />
<path d="M409.5 505.8H401.5C393 505.8 388.8 511.5 388.8 517.3C388.8 523 393 528.8 401.5 528.8H409.5" fill="none" stroke="#2a2a2a" stroke-width="0.8" />
</g>
<g filter="url(#sh)">
<path d="M436.4 540.3V552C436.4 561.5 443 566.4 450.6 566.4C458.2 566.4 464.8 561.5 464.8 552V540.3Z" fill="#fff" stroke="#2a2a2a" stroke-width="0.9" />
<path d="M439 542.8V552C439 559.5 444.5 563.7 450.6 563.7C456.7 563.7 462.2 559.5 462.2 552V542.8" fill="none" stroke="#2a2a2a" stroke-width="0.8" />
</g>
<g filter="url(#sh)">
<rect x="392.2" y="542.8" width="20.9" height="22.2" fill="#fff" stroke="#2a2a2a" stroke-width="0.9"/>
<circle cx="402.6" cy="553.9" r="6.1" fill="none" stroke="#2a2a2a" stroke-width="1"/>
<path d="M396.6 553.9H408.7M402.6 547.8V560" fill="none" stroke="#2a2a2a" stroke-width="0.8" />
<circle cx="402.6" cy="553.9" r="1.5" fill="#2a2a2a"/>
</g>
<g filter="url(#sh)"><g transform="translate(653.9,405.3) rotate(0)">
<path d="M-9.8 -7.4L9.8 -7.4L8.7 10.3L-8.7 10.3Z" fill="#fff" stroke="#2a2a2a" stroke-width="0.8" />
<path d="M-10.9 -6.2Q0 -12.4 10.9 -6.2L10.4 -3.9Q0 -9.5 -10.4 -3.9Z" fill="#dcdcdc" stroke="#2a2a2a" stroke-width="0.9" />
</g></g>
<g filter="url(#sh)"><g transform="translate(653.9,473.2) rotate(180)">
<path d="M-9.8 -7.4L9.8 -7.4L8.7 10.3L-8.7 10.3Z" fill="#fff" stroke="#2a2a2a" stroke-width="0.8" />
<path d="M-10.9 -6.2Q0 -12.4 10.9 -6.2L10.4 -3.9Q0 -9.5 -10.4 -3.9Z" fill="#dcdcdc" stroke="#2a2a2a" stroke-width="0.9" />
</g></g>
<g filter="url(#sh)"><g transform="translate(687.4,405.3) rotate(0)">
<path d="M-9.8 -7.4L9.8 -7.4L8.7 10.3L-8.7 10.3Z" fill="#fff" stroke="#2a2a2a" stroke-width="0.8" />
<path d="M-10.9 -6.2Q0 -12.4 10.9 -6.2L10.4 -3.9Q0 -9.5 -10.4 -3.9Z" fill="#dcdcdc" stroke="#2a2a2a" stroke-width="0.9" />
</g></g>
<g filter="url(#sh)"><g transform="translate(687.4,473.2) rotate(180)">
<path d="M-9.8 -7.4L9.8 -7.4L8.7 10.3L-8.7 10.3Z" fill="#fff" stroke="#2a2a2a" stroke-width="0.8" />
<path d="M-10.9 -6.2Q0 -12.4 10.9 -6.2L10.4 -3.9Q0 -9.5 -10.4 -3.9Z" fill="#dcdcdc" stroke="#2a2a2a" stroke-width="0.9" />
</g></g>
<g filter="url(#sh)"><g transform="translate(619.2,440.6) rotate(270)">
<path d="M-9.4 -6.6L9.4 -6.6L8.3 9.2L-8.3 9.2Z" fill="#fff" stroke="#2a2a2a" stroke-width="0.8" />
<path d="M-10.4 -5.5Q0 -11 10.4 -5.5L9.9 -3.5Q0 -8.5 -9.9 -3.5Z" fill="#dcdcdc" stroke="#2a2a2a" stroke-width="0.9" />
</g></g>
<g filter="url(#sh)"><g transform="translate(722.1,440.6) rotate(90)">
<path d="M-9.4 -6.6L9.4 -6.6L8.3 9.2L-8.3 9.2Z" fill="#fff" stroke="#2a2a2a" stroke-width="0.8" />
<path d="M-10.4 -5.5Q0 -11 10.4 -5.5L9.9 -3.5Q0 -8.5 -9.9 -3.5Z" fill="#dcdcdc" stroke="#2a2a2a" stroke-width="0.9" />
</g></g>
<g filter="url(#sh)">
<rect x="628.4" y="415.6" width="84.6" height="47.3" rx="10.5" ry="10.5" fill="#fff" stroke="#2a2a2a" stroke-width="1.2" />
</g>
<g filter="url(#sh)">
<rect x="602.6" y="538.4" width="21.1" height="21.1" fill="#fff" stroke="#2a2a2a" stroke-width="0.9"/>
<circle cx="613.2" cy="549" r="6.1" fill="none" stroke="#2a2a2a" stroke-width="1"/>
<path d="M607 549H619.3M613.2 542.8V555.1" fill="none" stroke="#2a2a2a" stroke-width="0.8" />
<circle cx="613.2" cy="549" r="1.5" fill="#2a2a2a"/>
</g>
<g filter="url(#sh)"><g transform="translate(627,528.6)">
<rect x="0" y="5.3" width="4.5" height="20" rx="1.5" ry="1.5" fill="#fff" stroke="#2a2a2a" stroke-width="0.9" />
<rect x="66.1" y="5.3" width="4.5" height="20" rx="1.5" ry="1.5" fill="#fff" stroke="#2a2a2a" stroke-width="0.9" />
<rect x="3" y="0" width="64.6" height="33.3" rx="3.2" ry="3.2" fill="#fff" stroke="#2a2a2a" stroke-width="0.9" />
<path d="M3 5.3Q19.2 3.3 35.3 5.3Q51.5 3.3 67.6 5.3" fill="none" stroke="#2a2a2a" stroke-width="0.8" />
<path d="M3 8Q19.2 6 35.3 8Q51.5 6 67.6 8" fill="none" stroke="#2a2a2a" stroke-width="0.8" />
<line x1="35.3" y1="0.5" x2="35.3" y2="32.8" stroke="#2a2a2a" stroke-width="0.9" />
</g></g>
<g filter="url(#sh)"><g transform="translate(596.5,638.4) rotate(-90)">
<rect x="0" y="5.1" width="4.5" height="19.2" rx="1.5" ry="1.5" fill="#fff" stroke="#2a2a2a" stroke-width="0.9" />
<rect x="67.3" y="5.1" width="4.5" height="19.2" rx="1.5" ry="1.5" fill="#fff" stroke="#2a2a2a" stroke-width="0.9" />
<rect x="3" y="0" width="65.8" height="32" rx="3.2" ry="3.2" fill="#fff" stroke="#2a2a2a" stroke-width="0.9" />
<path d="M3 5.2Q19.4 3.2 35.9 5.2Q52.3 3.2 68.8 5.2" fill="none" stroke="#2a2a2a" stroke-width="0.8" />
<path d="M3 7.7Q19.4 5.7 35.9 7.7Q52.3 5.7 68.8 7.7" fill="none" stroke="#2a2a2a" stroke-width="0.8" />
<line x1="35.9" y1="0.5" x2="35.9" y2="31.5" stroke="#2a2a2a" stroke-width="0.9" />
</g></g>
<g filter="url(#sh)">
<rect x="643.4" y="588.6" width="47" height="33.6" rx="4.5" ry="4.5" fill="#fff" stroke="#2a2a2a" stroke-width="1.3" />
<rect x="695.9" y="576.4" width="23.9" height="29" rx="2.5" ry="2.5" fill="#fff" stroke="#2a2a2a" stroke-width="1.3" />
<rect x="721.8" y="643.5" width="28.8" height="23.8" rx="2.5" ry="2.5" fill="#fff" stroke="#2a2a2a" stroke-width="1.3" />
<rect x="695" y="682.4" width="46.8" height="33.6" rx="4.5" ry="4.5" fill="#fff" stroke="#2a2a2a" stroke-width="1.3" />
<rect x="-12" y="-12.5" width="24" height="25" rx="2.5" fill="#fff" stroke="#2a2a2a" stroke-width="1.3" transform="translate(674,705.4) rotate(38)"/>
</g>
<g filter="url(#sh)"><g transform="translate(753.6,766.9) rotate(180)">
<rect x="0" y="5.2" width="4.5" height="19.6" rx="1.5" ry="1.5" fill="#fff" stroke="#2a2a2a" stroke-width="0.9" />
<rect x="66.7" y="5.2" width="4.5" height="19.6" rx="1.5" ry="1.5" fill="#fff" stroke="#2a2a2a" stroke-width="0.9" />
<rect x="3" y="0" width="65.2" height="32.6" rx="3.2" ry="3.2" fill="#fff" stroke="#2a2a2a" stroke-width="0.9" />
<path d="M3 5.2Q19.3 3.2 35.6 5.2Q51.9 3.2 68.2 5.2" fill="none" stroke="#2a2a2a" stroke-width="0.8" />
<path d="M3 7.8Q19.3 5.8 35.6 7.8Q51.9 5.8 68.2 7.8" fill="none" stroke="#2a2a2a" stroke-width="0.8" />
<line x1="35.6" y1="0.5" x2="35.6" y2="32.1" stroke="#2a2a2a" stroke-width="0.9" />
</g></g>
<g filter="url(#sh)"><g transform="translate(798.3,671.6) rotate(90)">
<rect x="0" y="5.3" width="4.5" height="20" rx="1.5" ry="1.5" fill="#fff" stroke="#2a2a2a" stroke-width="0.9" />
<rect x="66.9" y="5.3" width="4.5" height="20" rx="1.5" ry="1.5" fill="#fff" stroke="#2a2a2a" stroke-width="0.9" />
<rect x="3" y="0" width="65.4" height="33.3" rx="3.2" ry="3.2" fill="#fff" stroke="#2a2a2a" stroke-width="0.9" />
<path d="M3 5.3Q19.3 3.3 35.7 5.3Q52 3.3 68.4 5.3" fill="none" stroke="#2a2a2a" stroke-width="0.8" />
<path d="M3 8Q19.3 6 35.7 8Q52 6 68.4 8" fill="none" stroke="#2a2a2a" stroke-width="0.8" />
<line x1="35.7" y1="0.5" x2="35.7" y2="32.8" stroke="#2a2a2a" stroke-width="0.9" />
</g></g>
<g filter="url(#sh)">
<rect x="774.4" y="746.3" width="21.9" height="21.3" fill="#fff" stroke="#2a2a2a" stroke-width="0.9"/>
<circle cx="785.3" cy="757" r="6.4" fill="none" stroke="#2a2a2a" stroke-width="1"/>
<path d="M779 757H791.7M785.3 750.6V763.3" fill="none" stroke="#2a2a2a" stroke-width="0.8" />
<circle cx="785.3" cy="757" r="1.5" fill="#2a2a2a"/>
</g>
</g>
<g id="keyplan" fill="none" stroke="#4a4a4a" stroke-width="0.8" stroke-linejoin="miter">
<polygon points="864,670 890.4,672.9 891.8,681.6 902.5,682.6 903.4,676.1 956.8,682.2 953.3,699.3 969.5,701.3 971.6,691.8 984.6,693.2 985.8,682.2 1003.5,681.6 1002.4,698.9 995.9,700.5 994.3,720.2 985.8,721.2 983.8,739.5 970,739.5 961.8,791.3 923.2,786.6 927.3,753.7 875.5,747.2 875.5,731.4 856.6,727.7" fill="#efad36" stroke="none"/>
<polyline points="862.7,677.6 851.2,675.5 848.1,698.9 860.3,700.5" />
<polyline points="888.7,749.6 885.7,781.7 923.2,786.6" />
<polyline points="1029.4,682.2 1045.7,681.6 1046.3,691.8 1060.5,690.4 1061.9,701.9 1079.2,699.9 1076.1,681.6 1127.9,674.9 1128.9,683 1140.1,681.6 1139.7,673.5 1168.5,670 1172.6,689.7 1172.6,727.3 1156.3,730.4 1157.4,746.6 1142.1,749.6 1145.2,781.1 1071,791.3 1065,739.5 1056.9,739.5 1055.8,720 1037.6,719.6 1036.5,699.5 1029.8,699.5" />
<polyline points="1076.1,681.6 1072.1,670" />
<polyline points="1108.6,786.2 1104.6,754.7 1142.1,749.6" />
<path d="M954.7 648.1C975 647 985 666 1006.9 666.4" fill="none" stroke="#4a4a4a" stroke-width="0.8" />
<path d="M1026 667.4C1046 667 1056 648 1076.1 648.1" fill="none" stroke="#4a4a4a" stroke-width="0.8" />
<path d="M954.7 655.2C975 654.1 985 673.1 1006.9 673.5" fill="none" stroke="#4a4a4a" stroke-width="0.8" />
<path d="M1026 674.5C1046 674.1 1056 655.1 1076.1 655.2" fill="none" stroke="#4a4a4a" stroke-width="0.8" />
<path d="M956.8 682.2L959.8 669.4C968 670 976 680 985.2 681.6" fill="none" stroke="#4a4a4a" stroke-width="0.8" />
<path d="M1046.7 681.6C1056 680 1062 672 1072.1 670" fill="none" stroke="#4a4a4a" stroke-width="0.8" />
<rect x="1006.9" y="663.4" width="18.3" height="32.4" fill="#fff" stroke="#4a4a4a" stroke-width="0.8"/>
<line x1="1006.9" y1="667.5" x2="1025.2" y2="667.5" stroke="#4a4a4a" stroke-width="0.7" />
<rect x="1003.5" y="697.9" width="26.3" height="23.3" fill="#fff" stroke="#4a4a4a" stroke-width="0.8"/>
<path d="M1003.5 697.9L1029.8 721.2M1029.8 697.9L1003.5 721.2" fill="none" stroke="#4a4a4a" stroke-width="0.8" />
<path d="M1003.5 696.6H1009.5M1023.5 696.6H1029.8" fill="none" stroke="#111" stroke-width="1.8" />
<path d="M1001.5 712V722.5H1003.5M1031.8 712V722.5H1029.8" fill="none" stroke="#4a4a4a" stroke-width="0.7" />
<polyline points="983.8,739.5 987.5,745.6 983.1,745.6 983.1,791.3 1008.1,791.3" />
<rect x="983.8" y="746.3" width="24.2" height="44.3" fill="none" stroke="#4a4a4a" stroke-width="1.1"/>
<rect x="991.3" y="737.5" width="16.8" height="8.1" fill="none" stroke="#4a4a4a" stroke-width="1.2"/>
<path d="M993 739.5H1006.5V744H1001" fill="none" stroke="#4a4a4a" stroke-width="0.7" />
<path d="M985.5 759H995M998.5 759H1007M985.5 761.1H995M998.5 761.1H1007M985.5 763.2H995M998.5 763.2H1007M985.5 765.3H995M998.5 765.3H1007M985.5 767.4H995M998.5 767.4H1007M985.5 769.5H995M998.5 769.5H1007M985.5 771.6H995M998.5 771.6H1007M985.5 773.7H995M998.5 773.7H1007M985.5 775.8H995M998.5 775.8H1007M985.5 777.9H995M998.5 777.9H1007M985.5 780H995M998.5 780H1007" fill="none" stroke="#555" stroke-width="0.7" />
<path d="M995.5 757.5V781.5H998V757.5M1001 747V752Q1005 754 1007.5 758" fill="none" stroke="#4a4a4a" stroke-width="0.7" />
<rect x="1030.5" y="737.5" width="18" height="7" fill="none" stroke="#4a4a4a" stroke-width="1.2"/>
<rect x="1030.5" y="750.5" width="17.5" height="9" fill="none" stroke="#4a4a4a" stroke-width="1.2"/>
<rect x="1032" y="760.5" width="14.5" height="14" fill="none" stroke="#222" stroke-width="1.7"/>
<rect x="1032" y="777.5" width="19.5" height="11" fill="none" stroke="#4a4a4a" stroke-width="1.4"/>
<polyline points="1048.5,742 1051,745 1056.9,739.5" />
<polyline points="1048,775.5 1056,775.5 1056,791.5 1030.9,791.5" />
<polyline points="1053.5,777.5 1053.5,789.8 1032,789.8" stroke="#888"/>
<path d="M964.3 772L977 773.6M1055.8 773.6L1068 772" fill="none" stroke="#111" stroke-width="2" />
<line x1="977" y1="773.6" x2="983.1" y2="773.6" stroke="#4a4a4a" stroke-width="0.7" />
<rect x="1008.1" y="792.3" width="22.8" height="12.7" fill="#fff" stroke="#4a4a4a" stroke-width="0.8"/>
<path d="M1008.1 792.3L1030.9 805M1030.9 792.3L1008.1 805" fill="none" stroke="#4a4a4a" stroke-width="0.8" />
<path d="M1008.1 792.3V805M1030.9 792.3V805" fill="none" stroke="#111" stroke-width="1.6" />
<polyline points="1011.5,805 1011.5,810 1019.5,806.5 1027.5,810 1027.5,805" />
</g>
<g id="labels" opacity="0.999">
<text x="84.5" y="226.2" font-family='"Liberation Sans", Arial, sans-serif' font-size="10.8" font-weight="bold" fill="#1a1a1a" text-anchor="middle" textLength="31.3" lengthAdjust="spacingAndGlyphs" >PATIO</text>
<text x="202.3" y="271.8" font-family='"Liberation Sans", Arial, sans-serif' font-size="10.8" font-weight="bold" fill="#1a1a1a" text-anchor="middle" textLength="59.5" lengthAdjust="spacingAndGlyphs" >BED ROOM</text>
<text x="202.3" y="281.6" font-family='"Liberation Sans", Arial, sans-serif' font-size="8.6" font-weight="normal" fill="#3e3e3e" text-anchor="middle" textLength="44" lengthAdjust="spacingAndGlyphs" >3240X4085</text>
<text x="202.3" y="292.1" font-family='"Liberation Sans", Arial, sans-serif' font-size="8.6" font-weight="normal" fill="#3e3e3e" text-anchor="middle" textLength="50.5" lengthAdjust="spacingAndGlyphs" >(10'7&quot;X13'5&quot;)</text>
<text x="187.8" y="401.9" font-family='"Liberation Sans", Arial, sans-serif' font-size="10.8" font-weight="bold" fill="#1a1a1a" text-anchor="middle" textLength="19.5" lengthAdjust="spacingAndGlyphs" >TOI.</text>
<text x="187.8" y="411.7" font-family='"Liberation Sans", Arial, sans-serif' font-size="8.6" font-weight="normal" fill="#3e3e3e" text-anchor="middle" textLength="44" lengthAdjust="spacingAndGlyphs" >2575X2480</text>
<text x="187.8" y="422.2" font-family='"Liberation Sans", Arial, sans-serif' font-size="8.6" font-weight="normal" fill="#3e3e3e" text-anchor="middle" textLength="39.6" lengthAdjust="spacingAndGlyphs" >(8'5&quot;X8'2&quot;)</text>
<text x="345.4" y="274.5" font-family='"Liberation Sans", Arial, sans-serif' font-size="10.8" font-weight="bold" fill="#1a1a1a" text-anchor="middle" textLength="19.8" lengthAdjust="spacingAndGlyphs" >TOI.</text>
<text x="345.4" y="284.7" font-family='"Liberation Sans", Arial, sans-serif' font-size="8.6" font-weight="normal" fill="#3e3e3e" text-anchor="middle" textLength="43" lengthAdjust="spacingAndGlyphs" >1735X3100</text>
<text x="345.4" y="295.3" font-family='"Liberation Sans", Arial, sans-serif' font-size="8.6" font-weight="normal" fill="#3e3e3e" text-anchor="middle" textLength="44.7" lengthAdjust="spacingAndGlyphs" >(5'8&quot;X10'2&quot;)</text>
<text x="420" y="248" font-family='"Liberation Sans", Arial, sans-serif' font-size="10.8" font-weight="bold" fill="#1a1a1a" text-anchor="middle" textLength="60" lengthAdjust="spacingAndGlyphs" >BED ROOM</text>
<text x="420" y="257.8" font-family='"Liberation Sans", Arial, sans-serif' font-size="8.6" font-weight="normal" fill="#3e3e3e" text-anchor="middle" textLength="43.4" lengthAdjust="spacingAndGlyphs" >3600X3565</text>
<text x="420" y="268.3" font-family='"Liberation Sans", Arial, sans-serif' font-size="8.6" font-weight="normal" fill="#3e3e3e" text-anchor="middle" textLength="53" lengthAdjust="spacingAndGlyphs" >(11'10&quot;X11'8&quot;)</text>
<text x="634.2" y="202.2" font-family='"Liberation Sans", Arial, sans-serif' font-size="10.8" font-weight="bold" fill="#1a1a1a" text-anchor="middle" textLength="48.3" lengthAdjust="spacingAndGlyphs" >KITCHEN</text>
<text x="634.2" y="212" font-family='"Liberation Sans", Arial, sans-serif' font-size="8.6" font-weight="normal" fill="#3e3e3e" text-anchor="middle" textLength="43.4" lengthAdjust="spacingAndGlyphs" >2765X4165</text>
<text x="634.2" y="222.5" font-family='"Liberation Sans", Arial, sans-serif' font-size="8.6" font-weight="normal" fill="#3e3e3e" text-anchor="middle" textLength="36.5" lengthAdjust="spacingAndGlyphs" >(9'X13'7&quot;)</text>
<text x="772.3" y="106.8" font-family='"Liberation Sans", Arial, sans-serif' font-size="10.8" font-weight="bold" fill="#1a1a1a" text-anchor="middle" textLength="48.2" lengthAdjust="spacingAndGlyphs" >KITCHEN</text>
<text x="772.3" y="120.3" font-family='"Liberation Sans", Arial, sans-serif' font-size="10.8" font-weight="bold" fill="#1a1a1a" text-anchor="middle" textLength="29.3" lengthAdjust="spacingAndGlyphs" >YARD</text>
<text x="706.2" y="213.7" font-family='"Liberation Sans", Arial, sans-serif' font-size="10.8" font-weight="bold" fill="#1a1a1a" text-anchor="middle" textLength="25.2" lengthAdjust="spacingAndGlyphs" >W.M.</text>
<text x="741.5" y="276.1" font-family='"Liberation Sans", Arial, sans-serif' font-size="10.8" font-weight="bold" fill="#1a1a1a" text-anchor="middle" textLength="36.6" lengthAdjust="spacingAndGlyphs" >STORE</text>
<text x="741.5" y="286.3" font-family='"Liberation Sans", Arial, sans-serif' font-size="8.6" font-weight="normal" fill="#3e3e3e" text-anchor="middle" textLength="43.4" lengthAdjust="spacingAndGlyphs" >2515X1800</text>
<text x="741.5" y="296.9" font-family='"Liberation Sans", Arial, sans-serif' font-size="8.6" font-weight="normal" fill="#3e3e3e" text-anchor="middle" textLength="44.4" lengthAdjust="spacingAndGlyphs" >(8'3&quot;X5'11&quot;)</text>
<text x="912.5" y="250.3" font-family='"Liberation Sans", Arial, sans-serif' font-size="10.8" font-weight="bold" fill="#1a1a1a" text-anchor="middle" textLength="62.7" lengthAdjust="spacingAndGlyphs" >SER. ROOM</text>
<text x="912.5" y="260.1" font-family='"Liberation Sans", Arial, sans-serif' font-size="8.6" font-weight="normal" fill="#3e3e3e" text-anchor="middle" textLength="43.2" lengthAdjust="spacingAndGlyphs" >2800X2800</text>
<text x="912.5" y="270.6" font-family='"Liberation Sans", Arial, sans-serif' font-size="8.6" font-weight="normal" fill="#3e3e3e" text-anchor="middle" textLength="40.6" lengthAdjust="spacingAndGlyphs" >(9'2&quot;X9'2&quot;)</text>
<text x="924" y="117.2" font-family='"Liberation Sans", Arial, sans-serif' font-size="10.8" font-weight="bold" fill="#1a1a1a" text-anchor="middle" textLength="20.6" lengthAdjust="spacingAndGlyphs" >TOI.</text>
<text x="924" y="127.3" font-family='"Liberation Sans", Arial, sans-serif' font-size="8.6" font-weight="normal" fill="#3e3e3e" text-anchor="middle" textLength="42.6" lengthAdjust="spacingAndGlyphs" >1840X1600</text>
<text x="924" y="138.3" font-family='"Liberation Sans", Arial, sans-serif' font-size="8.6" font-weight="normal" fill="#3e3e3e" text-anchor="middle" textLength="32" lengthAdjust="spacingAndGlyphs" >(6'X5'3&quot;)</text>
<text x="503" y="349.2" font-family='"Liberation Sans", Arial, sans-serif' font-size="10.8" font-weight="bold" fill="#1a1a1a" text-anchor="middle" textLength="52.6" lengthAdjust="spacingAndGlyphs" >PASSAGE</text>
<text x="502.4" y="361.8" font-family='"Liberation Sans", Arial, sans-serif' font-size="10.8" font-weight="bold" fill="#1a1a1a" text-anchor="middle" textLength="56.8" lengthAdjust="spacingAndGlyphs" >1150 WIDE</text>
<text x="823.8" y="382.3" font-family='"Liberation Sans", Arial, sans-serif' font-size="10.8" font-weight="bold" fill="#1a1a1a" text-anchor="middle" textLength="38" lengthAdjust="spacingAndGlyphs" >LOBBY</text>
<text x="823.8" y="392.1" font-family='"Liberation Sans", Arial, sans-serif' font-size="8.6" font-weight="normal" fill="#3e3e3e" text-anchor="middle" textLength="43.9" lengthAdjust="spacingAndGlyphs" >3070X2580</text>
<text x="823.8" y="402.6" font-family='"Liberation Sans", Arial, sans-serif' font-size="8.6" font-weight="normal" fill="#3e3e3e" text-anchor="middle" textLength="38.2" lengthAdjust="spacingAndGlyphs" >(10'X8'6&quot;)</text>
<text x="317.4" y="420.5" font-family='"Liberation Sans", Arial, sans-serif' font-size="10.8" font-weight="bold" fill="#1a1a1a" text-anchor="middle" textLength="36.8" lengthAdjust="spacingAndGlyphs" >DRESS</text>
<text x="317.4" y="430.7" font-family='"Liberation Sans", Arial, sans-serif' font-size="8.6" font-weight="normal" fill="#3e3e3e" text-anchor="middle" textLength="43.4" lengthAdjust="spacingAndGlyphs" >2100X1500</text>
<text x="317.4" y="441" font-family='"Liberation Sans", Arial, sans-serif' font-size="8.6" font-weight="normal" fill="#3e3e3e" text-anchor="middle" textLength="48.9" lengthAdjust="spacingAndGlyphs" >(6'10&quot;X4'11&quot;)</text>
<text x="311.5" y="505.5" font-family='"Liberation Sans", Arial, sans-serif' font-size="10.8" font-weight="bold" fill="#1a1a1a" text-anchor="middle" textLength="20" lengthAdjust="spacingAndGlyphs" >TOI.</text>
<text x="311.5" y="515.6" font-family='"Liberation Sans", Arial, sans-serif' font-size="8.6" font-weight="normal" fill="#3e3e3e" text-anchor="middle" textLength="43.6" lengthAdjust="spacingAndGlyphs" >2400X2400</text>
<text x="311.5" y="526.2" font-family='"Liberation Sans", Arial, sans-serif' font-size="8.6" font-weight="normal" fill="#3e3e3e" text-anchor="middle" textLength="49.4" lengthAdjust="spacingAndGlyphs" >(7'10&quot;X7'10&quot;)</text>
<text x="456.2" y="477.5" font-family='"Liberation Sans", Arial, sans-serif' font-size="10.8" font-weight="bold" fill="#1a1a1a" text-anchor="middle" textLength="72.5" lengthAdjust="spacingAndGlyphs" >M.BED ROOM</text>
<text x="456.2" y="487.3" font-family='"Liberation Sans", Arial, sans-serif' font-size="8.6" font-weight="normal" fill="#3e3e3e" text-anchor="middle" textLength="44.7" lengthAdjust="spacingAndGlyphs" >4335X4015</text>
<text x="456.2" y="497.6" font-family='"Liberation Sans", Arial, sans-serif' font-size="8.6" font-weight="normal" fill="#3e3e3e" text-anchor="middle" textLength="50.3" lengthAdjust="spacingAndGlyphs" >(14'2&quot;X13'2&quot;)</text>
<text x="678.5" y="656" font-family='"Liberation Sans", Arial, sans-serif' font-size="10.8" font-weight="bold" fill="#1a1a1a" text-anchor="middle" textLength="130.2" lengthAdjust="spacingAndGlyphs" >LIVING CUM DINING RM.</text>
<text x="678.5" y="665.7" font-family='"Liberation Sans", Arial, sans-serif' font-size="8.6" font-weight="normal" fill="#3e3e3e" text-anchor="middle" textLength="43.9" lengthAdjust="spacingAndGlyphs" >9500X4495</text>
<text x="678.5" y="676.1" font-family='"Liberation Sans", Arial, sans-serif' font-size="8.6" font-weight="normal" fill="#3e3e3e" text-anchor="middle" textLength="50.4" lengthAdjust="spacingAndGlyphs" >(31'2&quot;X14'9&quot;)</text>
<text x="530.8" y="694.3" font-family='"Liberation Sans", Arial, sans-serif' font-size="10.8" font-weight="bold" fill="#1a1a1a" text-anchor="middle" textLength="32.3" lengthAdjust="spacingAndGlyphs" >PATIO</text>
<text x="110.8" y="62" font-family='"Liberation Serif", "Times New Roman", serif' font-size="18.5" font-weight="normal" fill="#7d7d7d" text-anchor="start" textLength="113.4" lengthAdjust="spacingAndGlyphs" >(3 B+3T+1SER)</text>
<text x="148.2" y="657.4" font-family='"Liberation Serif", "Times New Roman", serif' font-size="23" font-weight="normal" fill="#1e1e1e" text-anchor="start" textLength="235.7" lengthAdjust="spacingAndGlyphs" >2644 sq.ft. (245.6 sq.m.)</text>
</g>
<text transform="scale(0.96,1)" x="384.5 428.1 474.3 518.5 563 610.2 650 691.5 737.3 785.2 824.6" y="418.8" font-family='"Liberation Sans", Arial, sans-serif' font-size="62" font-weight="bold" fill="#08a0f8" opacity="0.21">SQUAREYARDS</text>
<g stroke="#ffffff" stroke-width="0.8" opacity="0.7"><path d="M123 163.6H1000M246 513H1200M480 600.5H1200"/></g>
<g stroke="#ffffff" stroke-width="0.6" opacity="0.35"><path d="M594 425.3H1000M580 687H814"/></g>
</svg></body></html>
